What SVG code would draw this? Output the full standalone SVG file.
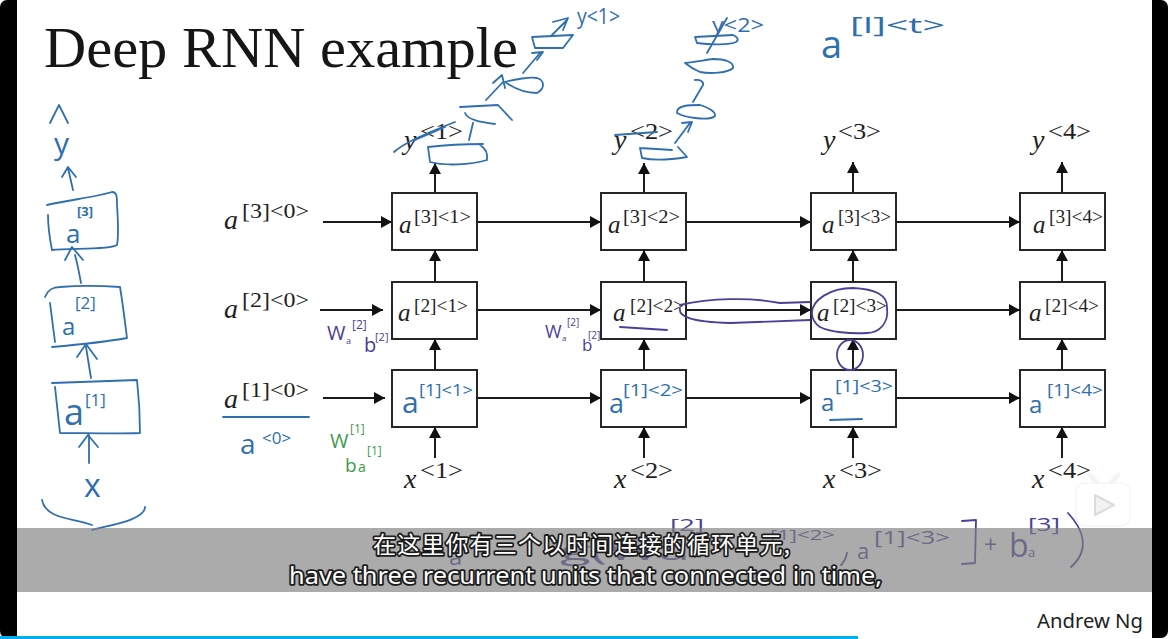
<svg xmlns="http://www.w3.org/2000/svg" width="1169" height="639" viewBox="0 0 1169 639">
<style>
.box{fill:#fff;stroke:#262626;stroke-width:2}
.c{fill:none;stroke:#1c1c1c;stroke-width:2;marker-end:url(#ah)}
.m{font-family:"Liberation Serif",serif;font-style:italic;fill:#1f1f1f;font-size:28px}
.bm{font-size:25px}
.s{font-family:"Liberation Serif",serif;fill:#1f1f1f;font-size:21px}
.bs{font-size:19px}
.ys{font-size:23px}
.hb,.hp,.hg{fill:none;stroke-width:1.8;stroke-linecap:round;stroke-linejoin:round}
.hb{stroke:#2f6fae}.hp{stroke:#4a4096}.hg{stroke:#3f9a4f}
.tb,.tp,.tg{font-family:"Open Sans",sans-serif}
.tb{fill:#2f6fae}.tp{fill:#4a4096}.tg{fill:#3f9a4f}
.cap{fill:#fff;stroke:#1c1c1c;stroke-width:3.6;paint-order:stroke;stroke-linejoin:round}
</style>
<defs>
<marker id="ah" markerUnits="userSpaceOnUse" markerWidth="13" markerHeight="13" refX="12" refY="6.5" orient="auto"><path d="M1 0.5L12 6.5L1 12.5Z" fill="#111"/></marker>
</defs>
<rect width="1169" height="639" fill="#fff"/>
<rect id="frame" x="0" y="0" width="1168" height="638" rx="7" fill="#000"/>
<rect id="slide" x="17" y="0" width="1135" height="639" fill="#fff"/>
<text id="title" x="44" y="67" font-family="Liberation Serif, serif" font-size="57" fill="#161616" textLength="474" lengthAdjust="spacingAndGlyphs">Deep RNN example</text>

<g id="nodes">
<g id="n31"><rect class="box" x="392" y="193" width="85" height="57"/><text class="m bm" x="399" y="233">a</text><text class="s bs" x="414" y="223" textLength="57" lengthAdjust="spacingAndGlyphs">[3]&lt;1&gt;</text></g>
<g id="n32"><rect class="box" x="601" y="193" width="85" height="57"/><text class="m bm" x="608" y="233">a</text><text class="s bs" x="623" y="223" textLength="57" lengthAdjust="spacingAndGlyphs">[3]&lt;2&gt;</text></g>
<g id="n33"><rect class="box" x="811" y="193" width="85" height="57"/><text class="m bm" x="822" y="233">a</text><text class="s bs" x="838" y="223" textLength="53" lengthAdjust="spacingAndGlyphs">[3]&lt;3&gt;</text></g>
<g id="n34"><rect class="box" x="1020" y="193" width="85" height="57"/><text class="m bm" x="1033" y="233">a</text><text class="s bs" x="1049" y="223" textLength="54" lengthAdjust="spacingAndGlyphs">[3]&lt;4&gt;</text></g>
<g id="n21"><rect class="box" x="392" y="282" width="85" height="57"/><text class="m bm" x="398" y="321">a</text><text class="s bs" x="414" y="312" textLength="54" lengthAdjust="spacingAndGlyphs">[2]&lt;1&gt;</text></g>
<g id="n22"><rect class="box" x="601" y="282" width="85" height="57"/><text class="m bm" x="613" y="321">a</text><text class="s bs" x="630" y="312" textLength="54" lengthAdjust="spacingAndGlyphs">[2]&lt;2&gt;</text></g>
<g id="n23"><rect class="box" x="811" y="282" width="85" height="57"/><text class="m bm" x="817" y="321">a</text><text class="s bs" x="833" y="312" textLength="54" lengthAdjust="spacingAndGlyphs">[2]&lt;3&gt;</text></g>
<g id="n24"><rect class="box" x="1020" y="282" width="85" height="57"/><text class="m bm" x="1029" y="321">a</text><text class="s bs" x="1045" y="312" textLength="54" lengthAdjust="spacingAndGlyphs">[2]&lt;4&gt;</text></g>
<g id="n11"><rect class="box" x="392" y="370" width="85" height="57"/><text class="tb" x="402" y="413" font-size="30">a</text><text class="tb" x="419" y="396" font-size="17" textLength="54" lengthAdjust="spacingAndGlyphs">[1]&lt;1&gt;</text></g>
<g id="n12"><rect class="box" x="601" y="370" width="85" height="57"/><text class="tb" x="609" y="413" font-size="27">a</text><text class="tb" x="623" y="396" font-size="17" textLength="60" lengthAdjust="spacingAndGlyphs">[1]&lt;2&gt;</text></g>
<g id="n13"><rect class="box" x="811" y="370" width="85" height="57"/><text class="tb" x="821" y="411" font-size="24">a</text><text class="tb" x="835" y="392" font-size="17" textLength="58" lengthAdjust="spacingAndGlyphs">[1]&lt;3&gt;</text></g>
<g id="n14"><rect class="box" x="1020" y="370" width="85" height="57"/><text class="tb" x="1029" y="413" font-size="24">a</text><text class="tb" x="1047" y="396" font-size="17" textLength="56" lengthAdjust="spacingAndGlyphs">[1]&lt;4&gt;</text></g>

<g id="init3"><text class="m" x="224" y="229">a</text><text class="s" x="242" y="218" textLength="67" lengthAdjust="spacingAndGlyphs">[3]&lt;0&gt;</text></g>
<g id="init2"><text class="m" x="224" y="318">a</text><text class="s" x="242" y="307" textLength="67" lengthAdjust="spacingAndGlyphs">[2]&lt;0&gt;</text></g>
<g id="init1"><text class="m" x="224" y="408">a</text><text class="s" x="242" y="397" textLength="67" lengthAdjust="spacingAndGlyphs">[1]&lt;0&gt;</text></g>

<g id="y1"><text class="m" x="404" y="149">y</text><text class="s ys" x="420" y="139" textLength="43" lengthAdjust="spacingAndGlyphs">&lt;1&gt;</text></g>
<g id="y2"><text class="m" x="614" y="149">y</text><text class="s ys" x="630" y="139" textLength="43" lengthAdjust="spacingAndGlyphs">&lt;2&gt;</text></g>
<g id="y3"><text class="m" x="823" y="149">y</text><text class="s ys" x="838" y="139" textLength="43" lengthAdjust="spacingAndGlyphs">&lt;3&gt;</text></g>
<g id="y4"><text class="m" x="1032" y="149">y</text><text class="s ys" x="1048" y="139" textLength="43" lengthAdjust="spacingAndGlyphs">&lt;4&gt;</text></g>
<g id="x1"><text class="m" x="404" y="488">x</text><text class="s ys" x="420" y="478" textLength="43" lengthAdjust="spacingAndGlyphs">&lt;1&gt;</text></g>
<g id="x2"><text class="m" x="614" y="488">x</text><text class="s ys" x="630" y="478" textLength="43" lengthAdjust="spacingAndGlyphs">&lt;2&gt;</text></g>
<g id="x3"><text class="m" x="823" y="488">x</text><text class="s ys" x="839" y="478" textLength="43" lengthAdjust="spacingAndGlyphs">&lt;3&gt;</text></g>
<g id="x4"><text class="m" x="1032" y="488">x</text><text class="s ys" x="1048" y="478" textLength="43" lengthAdjust="spacingAndGlyphs">&lt;4&gt;</text></g>
</g>

<g id="connectors">
<path class="c" d="M323 222H392"/><path class="c" d="M477 222H601"/><path class="c" d="M686 222H811"/><path class="c" d="M896 222H1020"/>
<path class="c" d="M320 310H383"/><path class="c" d="M477 310H601"/><path class="c" d="M686 310H811"/><path class="c" d="M896 310H1020"/>
<path class="c" d="M323 398H385"/><path class="c" d="M477 398H601"/><path class="c" d="M686 398H811"/><path class="c" d="M896 398H1020"/>
<path class="c" d="M435 193V163"/><path class="c" d="M644 193V163"/><path class="c" d="M853 193V162"/><path class="c" d="M1062 193V162"/>
<path class="c" d="M435 282V250"/><path class="c" d="M644 282V250"/><path class="c" d="M853 282V250"/><path class="c" d="M1062 282V250"/>
<path class="c" d="M435 370V339"/><path class="c" d="M644 370V339"/><path class="c" d="M853 370V339"/><path class="c" d="M1062 370V339"/>
<path class="c" d="M435 458V427"/><path class="c" d="M644 458V427"/><path class="c" d="M853 458V427"/><path class="c" d="M1062 458V427"/>
</g>

<g id="notes-left">
<path class="hb" d="M50 123L59 105L68 123"/>
<text class="tb" x="54" y="154" font-size="30">y</text>
<path class="hb" d="M73 190L68 168M62 177L68 167L76 177"/>
<path class="hb" d="M47 205C70 200 100 196 112 192C117 192 117 197 117 205C118 220 119 235 117 245C110 250 70 248 52 250C50 240 48 228 48 215"/>
<text class="tb" x="66" y="243" font-size="26">a</text><text class="tb" x="77" y="216" font-size="13" font-weight="700">[3]</text>
<path class="hb" d="M81 283C79 272 77 262 75 255M65 260L72 247L83 260"/>
<path class="hb" d="M45 297C48 290 52 287 60 287C85 285 105 286 120 287C123 305 125 322 127 338C105 342 75 345 52 347M50 303L55 342"/>
<text class="tb" x="62" y="335" font-size="24">a</text><text class="tb" x="75" y="309" font-size="17">[2]</text>
<path class="hb" d="M91 378L86 347M77 357L86 344L97 359"/>
<path class="hb" d="M52 383C85 382 115 381 137 380C139 398 140 415 140 433C115 434 85 433 60 433L55 387"/>
<text class="tb" x="64" y="425" font-size="36">a</text><text class="tb" x="85" y="406" font-size="17">[1]</text>
<path class="hb" d="M89 463V435M79 447L88 435L98 447"/>
<text class="tb" x="84" y="497" font-size="32">x</text>
<path class="hb" d="M42 500C46 520 75 518 92 525M92 530C110 525 145 520 145 507"/>
<path class="hb" d="M223 417H309"/>
<text class="tb" x="240" y="454" font-size="28">a</text><text class="tb" x="262" y="444" font-size="17">&lt;0&gt;</text>
</g>

<g id="notes-top">
<path class="hb" d="M428 147C445 145 465 144 483 144M428 147L430 162C445 166 470 165 487 160C488 153 485 148 480 145"/>
<path class="hb" stroke-width="3" d="M394 152C405 142 430 132 455 122M415 140L445 127"/>
<path class="hb" d="M469 140L473 123M460 107L498 105L512 120M465 113C468 120 480 122 495 124"/>
<path class="hb" d="M486 100L503 82M493 83L502 75L505 88"/>
<path class="hb" d="M505 82C515 79 530 77 537 78C544 80 546 88 537 93C530 93 518 91 505 82"/>
<path class="hb" d="M523 73L540 53M532 53L543 52L537 60"/>
<path class="hb" d="M532 37L573 35L563 48L535 48Z"/>
<path class="hb" d="M552 35L567 20M553 22L568 18L563 30"/>
<text class="tb" x="577" y="24" font-size="21" textLength="43" lengthAdjust="spacingAndGlyphs">y&lt;1&gt;</text>
<path class="hb" stroke-width="3" d="M615 135L657 132"/>
<path class="hb" d="M640 148L672 150M640 148L642 158C655 161 675 159 687 157L678 147"/>
<path class="hb" d="M675 143L690 123M682 123L692 122L688 132"/>
<path class="hb" d="M677 113C676 105 690 105 700 105C708 107 716 112 715 116C710 121 685 118 677 113Z"/>
<path class="hb" d="M693 102L703 85C704 82 700 79 695 80"/>
<path class="hb" d="M685 63C695 62 705 60 713 59C725 59 734 62 733 68C728 73 710 74 700 72C695 70 690 67 685 63Z"/>
<path class="hb" d="M707 53L727 18"/>
<path class="hb" d="M695 37L733 35C738 37 739 40 736 42C730 45 710 45 697 43Z"/>
<text class="tb" x="712" y="32" font-size="20" textLength="52" lengthAdjust="spacingAndGlyphs">y&lt;2&gt;</text>
<text class="tb" x="821" y="58" font-size="38">a</text><text class="tb" x="850" y="33" font-size="22" textLength="95" lengthAdjust="spacingAndGlyphs">[l]&lt;t&gt;</text>
</g>

<g id="notes-mid">
<path class="hp" d="M680 305C710 298 750 297 780 303L810 302"/>
<path class="hp" d="M680 308C678 316 690 322 730 323L810 320"/>
<path class="hp" d="M812 313C812 300 830 288 853 288C875 289 888 295 887 308C889 322 880 333 867 333C850 334 830 332 820 327C814 323 812 318 812 313Z"/>
<ellipse class="hp" cx="850" cy="355" rx="13" ry="15"/>
<path class="hp" d="M620 327L667 330"/>
<path class="hb" d="M830 420L862 419"/>
<text class="tp" x="327" y="340" font-size="20">W</text><text class="tp" x="346" y="344" font-size="9">a</text><text class="tp" x="352" y="329" font-size="12">[2]</text>
<text class="tp" x="364" y="352" font-size="20">b</text><text class="tp" x="375" y="341" font-size="11">[2]</text>
<text class="tp" x="545" y="338" font-size="18">W</text><text class="tp" x="562" y="341" font-size="8">a</text><text class="tp" x="567" y="326" font-size="10">[2]</text>
<text class="tp" x="582" y="351" font-size="17">b</text><text class="tp" x="588" y="339" font-size="10">[2]</text>
<text class="tg" x="330" y="448" font-size="20">W</text><text class="tg" x="350" y="433" font-size="12">[1]</text>
<text class="tg" x="345" y="472" font-size="19">b</text><text class="tg" x="358" y="472" font-size="14">a</text><text class="tg" x="367" y="455" font-size="12">[1]</text>
</g>

<g id="formula">
<text class="tp" x="449" y="565" font-size="24">a</text>
<text class="tp" x="560" y="560" font-size="26" textLength="130" lengthAdjust="spacingAndGlyphs">g(Wa</text>
<text class="tp" x="670" y="531" font-size="17" textLength="34" lengthAdjust="spacingAndGlyphs">[2]</text>
<text class="tp" x="770" y="540" font-size="15" textLength="65" lengthAdjust="spacingAndGlyphs">[1]&lt;2&gt;</text>
<path class="hp" d="M847 553C846 558 844 562 841 565"/>
<text class="tp" x="857" y="559" font-size="22">a</text>
<text class="tp" x="874" y="544" font-size="18" textLength="76" lengthAdjust="spacingAndGlyphs">[1]&lt;3&gt;</text>
<path class="hp" d="M962 521L976 520L975 563L962 564"/>
<text class="tp" x="984" y="553" font-size="23">+</text>
<text class="tp" x="1009" y="557" font-size="32">b</text><text class="tp" x="1028" y="557" font-size="13">a</text>
<text class="tp" x="1028" y="531" font-size="18" textLength="32" lengthAdjust="spacingAndGlyphs">[3]</text>
<path class="hp" d="M1068 513C1084 530 1090 550 1071 567"/>
</g>

<g id="caption">
<rect x="17" y="528" width="1135" height="64" fill="#808080" fill-opacity="0.66"/>
<text class="cap" x="373" y="553" font-size="23" textLength="417" font-family="Noto Sans CJK SC, sans-serif">在这里你有三个以时间连接的循环单元,</text>
<text class="cap" x="289" y="584" font-size="24" textLength="593" lengthAdjust="spacingAndGlyphs" font-family="Noto Sans, sans-serif">have three recurrent units that connected in time,</text>
</g>

<text id="author" x="1037" y="628" font-family="Noto Sans, sans-serif" font-size="20" fill="#222" textLength="106" lengthAdjust="spacingAndGlyphs">Andrew Ng</text>

<g id="badge">
<path d="M1090 475L1098 484M1118 475L1110 484" stroke="#f4f4f4" stroke-width="5" stroke-linecap="round"/>
<rect x="1076" y="483" width="54" height="43" rx="9" fill="#fff" stroke="#f0f0f0" stroke-width="1"/>
<path d="M1095 495L1114 505L1095 515Z" fill="#f2f2f2" stroke="#dcdcdc" stroke-width="2" stroke-linejoin="round"/>
</g>
<rect id="progress" x="0" y="636" width="858" height="3" fill="#00aeec"/>
</svg>
